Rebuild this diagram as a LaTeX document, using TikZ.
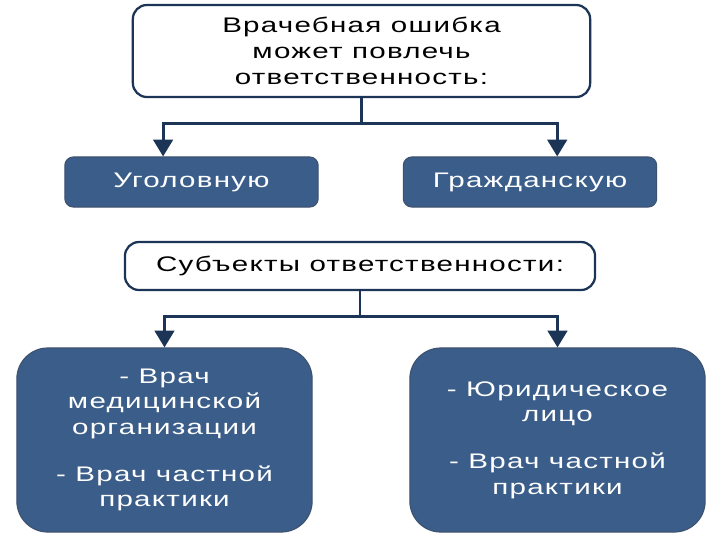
\documentclass[tikz,border=0pt]{standalone}
\usepackage{fontspec}
\setmainfont{Liberation Sans}[FakeStretch=1.4, LetterSpace=6]
\usetikzlibrary{arrows.meta}
\definecolor{boxblue}{RGB}{58,93,138}
\definecolor{navy}{RGB}{28,52,86}

\begin{document}
\begin{tikzpicture}[
            x=0.025cm, y=-0.025cm,
            head/.style={draw=navy, line width=1.6pt, fill=white, rounded corners=10pt,
                align=center, inner sep=0pt, font=\fontsize{15}{18.5}\selectfont},
            kind/.style={draw=navy!85, line width=0.8pt, fill=boxblue, text=white,
                rounded corners=6pt, align=center, inner sep=0pt,
                minimum width=6.33cm, minimum height=1.25cm, font=\fontsize{15}{18}\selectfont},
            who/.style={kind, rounded corners=22pt, minimum width=7.38cm, minimum height=4.6cm},
            conn/.style={draw=navy, line width=2pt, -{Triangle[width=14pt,length=12pt]}},
        ]
            \fill[white] (0,0) rectangle (720,540);
            \useasboundingbox (0,0) rectangle (720,540);

            % liability
            \node[head, minimum width=11.43cm, minimum height=2.3cm] (err) at (361.5,51)
                {\raisebox{-3pt}{\parbox{8cm}{\centering Врачебная ошибка\\может повлечь\\ответственность:}}};
            \node[kind] (ugol) at (191.5,182) {Уголовную};
            \node[kind] (grazh) at (530,182) {Гражданскую};
            \draw[conn] (err.south) -- ++(0,25) -| ([xshift=-0.71cm]ugol.north);
            \draw[conn] (err.south) -- ++(0,25) -| ([xshift=0.68cm]grazh.north);

            % subjects
            \node[head, minimum width=11.75cm, minimum height=1.2cm] (subj) at (360,266)
                {Субъекты ответственности:};
            \node[who] (doc) at (164.5,440)
                {- Врач\\медицинской\\организации\\[0.55cm]- Врач частной\\практики};
            \node[who] (firm) at (557.5,440)
                {- Юридическое\\лицо\\[0.55cm]- Врач частной\\практики};
            \draw[conn] (subj.south) -- ++(0,25) -| (doc.north);
            \draw[conn] (subj.south) -- ++(0,25) -| (firm.north);
        \end{tikzpicture}
\end{document}
